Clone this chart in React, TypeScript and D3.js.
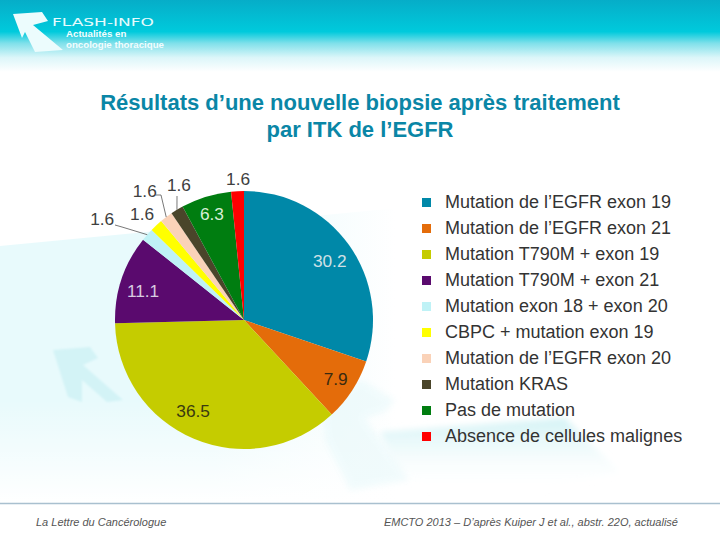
import React from "react";
import * as d3 from "d3";

const categories = [
  "Mutation de l’EGFR exon 19",
  "Mutation de l’EGFR exon 21",
  "Mutation T790M + exon 19",
  "Mutation T790M + exon 21",
  "Mutation exon 18 + exon 20",
  "CBPC + mutation exon 19",
  "Mutation de l’EGFR exon 20",
  "Mutation KRAS",
  "Pas de mutation",
  "Absence de cellules malignes",
];
const values = [30.2, 7.9, 36.5, 11.1, 1.6, 1.6, 1.6, 1.6, 6.3, 1.6];
const colors = ["#0088a8", "#e46c0a", "#c5cc00", "#5a0a6e", "#bff2f6", "#ffff00", "#fad2b8", "#4a452a", "#007d10", "#ff0000"];
const titleLines = ["Résultats d’une nouvelle biopsie après traitement", "par ITK de l’EGFR"];

// label placement: [bearing in degrees from north, distance from the pie centre]
const labelPolar = [[55.5, 104], [122.7, 109], [209.3, 104], [286, 105], [305.4, 174], [316.1, 147], [322.5, 163], [334.3, 150], [343.2, 111], [357.6, 141]];
const labelFill = ["#cfe0e6", "#3a2a10", "#3a3a10", "#d8cce0", "#404040", "#404040", "#404040", "#404040", "#d8efd8", "#404040"];
// leader lines: slice index -> label-side points, relative to the pie centre
const leaders: [number, number[][]][] = [
  [4, [[-129, -95], [-122, -93]]],
  [6, [[-88, -125], [-83, -125]]],
  [7, [[-67, -124]]],
];

const cx = 244, cy = 320, radius = 129;
const font = "'Liberation Sans', Arial, sans-serif";

function polar(deg: number, r: number) {
  const a = (deg * Math.PI) / 180;
  return [cx + r * Math.sin(a), cy - r * Math.cos(a)];
}

const pts = (p: number[][]) => p.map(q => q.join(",")).join(" ");
const logoArrow = [[13, 14], [42, 12], [48, 21], [33, 25], [63, 50], [35, 52], [25, 32], [22, 38]];
const leftArrow = [[53, 350], [90, 347], [98, 358], [83, 365], [123, 400], [107, 402], [82, 380], [82, 402], [68, 397]];
const midArrow = [[362, 380], [395, 400], [385, 412], [365, 418], [410, 480], [350, 490], [325, 440], [322, 400]];
const rightBlob = [[380, 432], [565, 418], [620, 472], [540, 492], [430, 492], [398, 470]];

export default function App() {
  const pie = d3.pie<number>().sort(null).value(d => d)(values);
  const arc = d3.arc<d3.PieArcDatum<number>>().innerRadius(0).outerRadius(radius);
  const legendY = d3.scalePoint<number>().domain(d3.range(categories.length)).range([202, 436]);
  const line = d3.line();

  return (
    <svg width={720} height={540} style={{ position: "absolute", left: 0, top: 0, fontFamily: font }}>
      <defs>
        <linearGradient id="top" x1="0" x2="0" y1="0" y2="1">
          <stop offset="0" stopColor="#06adc8" />
          <stop offset="0.44" stopColor="#00cadc" />
          <stop offset="0.6" stopColor="#7fe0ea" />
          <stop offset="0.8" stopColor="#dcf6f9" />
          <stop offset="1" stopColor="#ffffff" />
        </linearGradient>
        <linearGradient id="washH" x1="0" x2="1" y1="0" y2="0">
          <stop offset="0" stopColor="#e8fafc" />
          <stop offset="0.5" stopColor="#e8fafc" />
          <stop offset="0.92" stopColor="#ffffff" />
          <stop offset="1" stopColor="#ffffff" />
        </linearGradient>
        <linearGradient id="fadeV" x1="0" x2="0" y1="0" y2="1">
          <stop offset="0" stopColor="#ffffff" stopOpacity={0} />
          <stop offset="1" stopColor="#ffffff" stopOpacity={1} />
        </linearGradient>
        <linearGradient id="blob" x1="0" x2="0" y1="0" y2="1">
          <stop offset="0" stopColor="#d2f2f5" />
          <stop offset="1" stopColor="#ffffff" stopOpacity={0} />
        </linearGradient>
        <filter id="soft"><feGaussianBlur stdDeviation="0.8" /></filter>
        <filter id="softer"><feGaussianBlur stdDeviation="3" /></filter>
      </defs>
      <rect width={720} height={540} fill="#fff" />
      <polygon points="0,246 430,205 430,504 0,504" fill="url(#washH)" />
      <rect y={400} width={720} height={104} fill="url(#fadeV)" />
      <rect width={720} height={72} fill="url(#top)" />

      <polygon points={pts(leftArrow)} fill="#d3f3f6" filter="url(#soft)" />
      <polygon points={pts(midArrow)} fill="#e4f8fa" opacity={0.5} filter="url(#softer)" />
      <polygon points={pts(rightBlob)} fill="url(#blob)" filter="url(#softer)" />

      <polygon points={pts(logoArrow)} fill="#ecfcfd" />
      <text x={52} y={26} fontSize={11} fontFamily="'DejaVu Sans', sans-serif" fill="#e6fbfd" textLength={102} lengthAdjust="spacingAndGlyphs">FLASH-INFO</text>
      <text x={66} y={37} fontSize={9.7} fontWeight={700} fill="#f2fdfe">Actualités en</text>
      <text x={66} y={48} fontSize={9.7} fontWeight={700} fill="#f2fdfe">oncologie thoracique</text>

      {titleLines.map((t, i) => (
        <text key={t} x={360} y={110 + i * 27} textAnchor="middle" fontSize={22} fontWeight={700} fill="#0a86a6">{t}</text>
      ))}

      <g transform={`translate(${cx},${cy})`}>
        {pie.map((d, i) => (
          <path key={i} d={arc(d) ?? ""} fill={colors[i]} />
        ))}
      </g>

      {leaders.map(([i, p]) => {
        const d = pie[i];
        const mid = (d.startAngle + d.endAngle) / 2;
        const end: [number, number] = [cx + radius * Math.sin(mid), cy - radius * Math.cos(mid)];
        const path = p.map(q => [cx + q[0], cy + q[1]] as [number, number]);
        return <path key={i} d={line([...path, end]) ?? ""} fill="none" stroke="#555" strokeWidth={0.8} />;
      })}

      {values.map((v, i) => {
        const [x, y] = polar(labelPolar[i][0], labelPolar[i][1]);
        return (
          <text key={i} x={x} y={y} dy="0.36em" textAnchor="middle" fontSize={17.3} fill={labelFill[i]}>
            {v.toFixed(1)}
          </text>
        );
      })}

      {categories.map((c, i) => {
        const y = legendY(i)!;
        return (
          <g key={c}>
            <rect x={422} y={y - 4} width={9} height={9} fill={colors[i]} />
            <text x={445} y={y} dy="0.35em" fontSize={18} fill="#333">{c}</text>
          </g>
        );
      })}

      <rect y={503} width={720} height={37} fill="#fff" />
      <line x1={0} x2={720} y1={503.5} y2={503.5} stroke="#a9c0cf" strokeWidth={1.4} />
      <text x={36} y={526} fontSize={11} fontStyle="italic" fill="#555">La Lettre du Cancérologue</text>
      <text x={678} y={526} textAnchor="end" fontSize={11} fontStyle="italic" fill="#555">EMCTO 2013 – D’après Kuiper J et al., abstr. 22O, actualisé</text>
    </svg>
  );
}
